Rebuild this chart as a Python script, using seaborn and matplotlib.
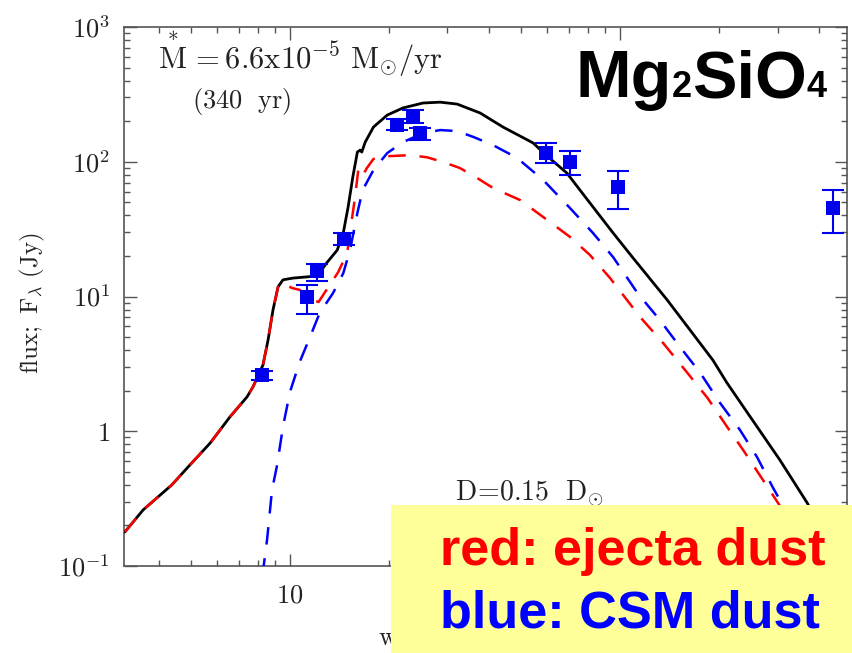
import numpy as np
import pandas as pd
import matplotlib
matplotlib.use("Agg")
import matplotlib.pyplot as plt
import seaborn as sns
from matplotlib.ticker import FixedLocator, FixedFormatter, LogLocator, NullFormatter
from matplotlib.transforms import offset_copy
from matplotlib.patches import Rectangle

# ---------------- data ----------------
total_wl = [3.16, 3.59, 4.38, 4.91, 5.73, 6.58, 7.41, 7.72, 8.28, 8.58, 8.88, 9.20, 9.52,
            10.2, 11.3, 12.1, 12.9, 13.9, 14.5, 15.0, 15.5, 16.0, 16.3, 16.5, 16.9, 17.9,
            19.7, 22.0, 25.3, 28.5, 32.1, 37.7, 44.2, 54.5, 59.7, 69.0, 82.8, 95.3, 109,
            139, 191, 211, 248, 305, 369, 433, 481]
total_flux = [0.179, 0.261, 0.399, 0.543, 0.818, 1.28, 1.80, 2.13, 3.10, 4.75, 7.94, 11.8, 13.3,
              13.7, 14.0, 14.2, 17.7, 22.1, 29.6, 46.2, 77.1, 118, 122, 118, 140, 181,
              222, 251, 273, 277, 268, 230, 181, 138, 112, 82.5, 46.2, 29.6, 19.6,
              9.42, 3.38, 2.28, 1.28, 0.612, 0.294, 0.143, 0.093]

ejecta_wl = [3.16, 3.59, 4.38, 4.91, 5.73, 6.58, 7.41, 7.72, 8.28, 8.58, 8.88, 9.20, 9.52,
             10.1, 10.7, 11.5, 12.2, 13.2, 14.0, 14.9, 15.4, 15.7, 16.1, 16.5, 17.1, 17.9,
             19.8, 23.1, 26.0, 29.1, 32.7, 36.9, 41.2, 49.8, 58.5, 70.5, 81.1, 93.3, 115,
             135, 160, 184, 211, 236, 271, 301, 351, 403]
ejecta_flux = [0.179, 0.261, 0.399, 0.543, 0.818, 1.28, 1.80, 2.13, 3.10, 4.75, 7.94, 11.8, 12.8,
               11.6, 11.2, 9.6, 9.1, 12.2, 15.2, 21.0, 37.6, 52.0, 86.8, 77.1, 89.9, 105,
               110, 112, 108, 99.6, 89.9, 75.8, 63.9, 52.0, 38.9, 27.7, 20.3, 13.7, 7.05,
               4.52, 2.71, 1.77, 1.08, 0.726, 0.435, 0.294, 0.164, 0.093]

csm_wl = [8.25, 8.52, 8.82, 9.14, 9.52, 10.0, 10.7, 11.5, 12.3, 13.5, 14.5, 15.2, 16.0, 16.6,
          17.9, 19.7, 22.0, 25.3, 28.5, 32.1, 35.9, 41.2, 48.7, 58.5, 70.5, 82.8, 95.3, 113,
          132, 152, 175, 201, 231, 260, 291, 305, 351, 418]
csm_flux = [0.085, 0.156, 0.366, 0.562, 1.08, 1.96, 3.27, 5.01, 7.55, 10.6, 14.9, 22.1, 41.7, 61.7,
            86.8, 116, 140, 163, 172, 169, 153, 133, 107, 73.2, 45.4, 29.6, 19.6, 10.6,
            6.69, 4.22, 2.71, 1.62, 1.02, 0.644, 0.379, 0.309, 0.185, 0.093]

obs_wl = [8.22, 11.26, 12.07, 14.6, 21.1, 23.6, 24.8, 59.7, 70.5, 98.6, 442]
obs_flux = [2.61, 9.9, 15.5, 26.7, 187, 215, 163, 116, 99.6, 65, 45.4]
obs_lo = [2.42, 7.4, 13.0, 24.0, 172, 194, 145, 98, 80, 44.6, 29.6]
obs_hi = [2.78, 12.2, 17.4, 29.5, 208, 242, 178, 138, 120, 85, 61.6]

y_ticks = [0.1, 1, 10, 100, 1000]
y_ticklabels = [r"$10^{-1}$", r"$1$", r"$10^{1}$", r"$10^{2}$", r"$10^{3}$"]
x_ticks = [10, 100]
x_ticklabels = [r"$10$", ""]

# ---------------- style ----------------
sns.set_style("ticks")
plt.rcParams["mathtext.fontset"] = "cm"
plt.rcParams["font.family"] = ["DejaVu Sans"]
axis_gray = "#555555"
text_gray = "#222222"

fig = plt.figure(figsize=(8.52, 6.53), dpi=100)
ax = fig.add_axes([0.1455, 0.1332, 0.8486, 0.8254])

df_total = pd.DataFrame({"wl": total_wl, "flux": total_flux})
df_ej = pd.DataFrame({"wl": ejecta_wl, "flux": ejecta_flux})
df_csm = pd.DataFrame({"wl": csm_wl, "flux": csm_flux})
df_obs = pd.DataFrame({"wl": obs_wl, "flux": obs_flux, "lo": obs_lo, "hi": obs_hi})

sns.lineplot(data=df_total, x="wl", y="flux", ax=ax, sort=False, color="black",
             lw=2.0, zorder=3)
sns.lineplot(data=df_csm, x="wl", y="flux", ax=ax, sort=False, color="#0000ff",
             lw=1.8, linestyle=(0, (7, 5.5)), zorder=4)
sns.lineplot(data=df_ej, x="wl", y="flux", ax=ax, sort=False, color="#ff0000",
             lw=1.8, linestyle=(0, (7, 5.5)), zorder=5)

yerr = np.array([df_obs["flux"] - df_obs["lo"], df_obs["hi"] - df_obs["flux"]])
ax.errorbar(df_obs["wl"], df_obs["flux"], yerr=yerr, fmt="none", ecolor="#0000ee",
            elinewidth=1.5, capsize=8, capthick=1.5, zorder=6)
sns.scatterplot(data=df_obs, x="wl", y="flux", ax=ax, marker="s", s=110,
                color="#0000ee", edgecolor="#0000ee", linewidth=0, zorder=7)

ax.set_xscale("log")
ax.set_yscale("log")
ax.set_xlim(3.14, 487)
ax.set_ylim(0.1, 1000)

ax.yaxis.set_major_locator(FixedLocator(y_ticks))
ax.yaxis.set_major_formatter(FixedFormatter(y_ticklabels))
ax.xaxis.set_major_locator(FixedLocator(x_ticks))
ax.xaxis.set_major_formatter(FixedFormatter(x_ticklabels))
for a in (ax.xaxis, ax.yaxis):
    a.set_minor_locator(LogLocator(base=10, subs=np.arange(2, 10), numticks=20))
    a.set_minor_formatter(NullFormatter())

ax.tick_params(which="both", direction="in", top=True, right=True,
               color=axis_gray, labelcolor=text_gray)
ax.tick_params(which="major", length=9, width=1.0, labelsize=19)
ax.tick_params(which="minor", length=4.5, width=1.0)
ax.tick_params(axis="y", which="major", pad=10)
ax.tick_params(axis="x", which="major", pad=12)
for s in ax.spines.values():
    s.set_color(axis_gray)
    s.set_linewidth(1.2)

ax.set_xlabel(r"$\mathrm{wavelength\ (\mu m)}$", fontsize=19, color=text_gray)
ax.xaxis.label.set_ha("left")
ax.xaxis.set_label_coords((378 - 124) / 723, -0.105)
ax.set_ylabel(r"$\mathrm{flux;\ F}_{\lambda}\ \mathrm{(Jy)}$", fontsize=18, color=text_gray)
ax.yaxis.set_label_coords(-0.1065, 0.488)

# annotations
ax.text(0.047, 0.924, r"$\overset{*}{\mathrm{M}}\mathrm{\,=6.6x10}^{-5}\ \mathrm{M}_{\odot}\mathrm{/yr}$",
        transform=ax.transAxes, fontsize=22, color=text_gray, va="baseline", ha="left")
ax.text(0.094, 0.850, r"$\mathrm{(340\ \ yr)}$", transform=ax.transAxes, fontsize=19,
        color=text_gray, va="baseline", ha="left")
ax.text(0.458, 0.122, r"$\mathrm{D\!=\!0.15\ \ D}_{\odot}$", transform=ax.transAxes, fontsize=20,
        color=text_gray, va="baseline", ha="left")

# Mg2SiO4 title with small baseline digits
big, small = 48, 26
parts = [("Mg", big), ("2", small), ("SiO", big), ("4", small)]
fig.canvas.draw()
renderer = fig.canvas.get_renderer()
xoff = 0.0
for txt, size in parts:
    tr = offset_copy(ax.transAxes, fig=fig, x=xoff, y=0, units="dots")
    t = ax.text(0.625, 0.870, txt, transform=tr, fontsize=size, fontweight="bold",
                family="Liberation Sans", color="black", va="baseline", ha="left", zorder=8)
    xoff += t.get_window_extent(renderer=renderer).width

# yellow box with legend text
fig.add_artist(Rectangle((391 / 852, 0), 1 - 391 / 852, (653 - 505) / 653,
                         transform=fig.transFigure, facecolor="#ffff99", edgecolor="none",
                         zorder=10))
fig.text(440 / 852, 1 - 565 / 653, "red: ejecta dust", fontsize=37.6, fontweight="bold",
         family="Liberation Sans", color="#ff0000", va="baseline", ha="left", zorder=11)
fig.text(440 / 852, 1 - 628 / 653, "blue: CSM dust", fontsize=37.6, fontweight="bold",
         family="Liberation Sans", color="#0000ff", va="baseline", ha="left", zorder=11)

fig.savefig("out.png", dpi=100)
